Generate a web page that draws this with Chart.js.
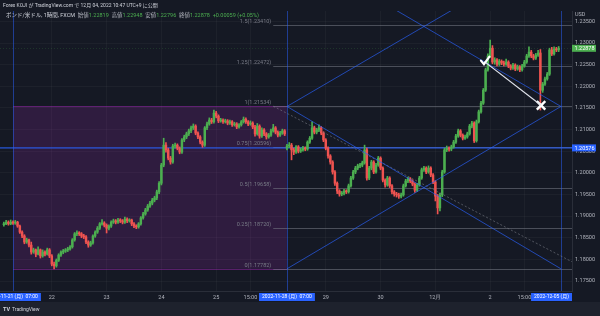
<!DOCTYPE html>
<html>
<head>
<meta charset="utf-8">
<script src="https://cdn.jsdelivr.net/npm/chart.js@4.4.0/dist/chart.umd.min.js"></script>
<style>
  html, body { margin: 0; padding: 0; background: #151924; }
  #c { display: block; }
</style>
</head>
<body>
<canvas id="c" width="600" height="316"></canvas>
<script>
// ------------------ GBP/USD 1h candles (11-19 03:00 .. 12-03 06:00 JST) ------------------
// index 0 = 2022-11-21 (Mon) 07:00, one step = one hour of trading
const firstIndex = -4;

const opens = [
  1.1880,1.1882,1.1886,1.1882,1.1886,1.1884,1.1886,1.1877,1.1863,1.1854,1.1840,1.1845,
  1.1833,1.1817,1.1822,1.1812,1.1822,1.1808,1.1817,1.1812,1.1822,1.1808,1.1789,1.1785,
  1.1798,1.1810,1.1817,1.1819,1.1822,1.1824,1.1829,1.1845,1.1859,1.1861,1.1859,1.1854,
  1.1852,1.1840,1.1833,1.1838,1.1854,1.1863,1.1872,1.1882,1.1884,1.1879,1.1872,1.1877,
  1.1886,1.1889,1.1886,1.1891,1.1889,1.1886,1.1893,1.1889,1.1891,1.1882,1.1877,1.1875,
  1.1882,1.1896,1.1905,1.1914,1.1923,1.1930,1.1937,1.1942,1.1956,1.1976,1.2018,1.2064,
  1.2053,1.2034,1.2025,1.2062,1.2064,1.2057,1.2048,1.2076,1.2083,1.2090,1.2097,1.2104,
  1.2108,1.2092,1.2083,1.2071,1.2064,1.2104,1.2113,1.2122,1.2118,1.2138,1.2131,1.2120,
  1.2122,1.2118,1.2120,1.2115,1.2118,1.2111,1.2113,1.2106,1.2111,1.2118,1.2124,1.2118,
  1.2113,1.2115,1.2106,1.2090,1.2108,1.2085,1.2099,1.2090,1.2083,1.2087,1.2097,1.2104,
  1.2094,1.2087,1.2092,1.2097,1.2057,1.2062,1.2064,1.2053,1.2048,1.2060,1.2050,1.2053,
  1.2057,1.2055,1.2071,1.2080,1.2104,1.2094,1.2099,1.2104,1.2092,1.2076,1.2057,1.2039,
  1.2025,1.2002,1.1976,1.1958,1.1951,1.1953,1.1958,1.1956,1.1970,1.1988,1.2002,1.2011,
  1.2016,1.2018,1.2023,1.2053,1.1988,1.2011,1.2025,1.2002,1.2018,1.2034,1.2011,1.1983,
  1.1972,1.1988,1.1970,1.1956,1.1951,1.1949,1.1946,1.1949,1.1970,1.1981,1.1986,1.1981,
  1.1974,1.1960,1.1972,1.1988,1.2007,1.2011,1.2002,1.2011,1.1995,1.1979,1.1946,1.1919,
  1.1949,1.2002,1.2053,1.2057,1.2055,1.2060,1.2071,1.2085,1.2097,1.2087,1.2080,1.2083,
  1.2090,1.2108,1.2115,1.2074,1.2118,1.2141,1.2161,1.2191,1.2238,1.2270,1.2288,1.2256,
  1.2261,1.2251,1.2258,1.2254,1.2251,1.2256,1.2247,1.2242,1.2249,1.2240,1.2245,1.2238,
  1.2247,1.2256,1.2270,1.2279,1.2270,1.2265,1.2272,1.2277,1.2191,1.2205,1.2217,1.2228,
  1.2284,1.2275,1.2286,1.2284
];
const highs = [
  1.1886,1.1890,1.1889,1.1891,1.1889,1.1890,1.1888,1.1879,1.1866,1.1857,1.1849,1.1847,
  1.1840,1.1826,1.1824,1.1829,1.1824,1.1822,1.1820,1.1826,1.1825,1.1811,1.1794,1.1801,
  1.1813,1.1820,1.1823,1.1825,1.1828,1.1832,1.1848,1.1862,1.1866,1.1864,1.1862,1.1858,
  1.1855,1.1843,1.1842,1.1857,1.1866,1.1876,1.1885,1.1892,1.1887,1.1882,1.1880,1.1889,
  1.1893,1.1892,1.1895,1.1894,1.1892,1.1898,1.1896,1.1894,1.1893,1.1885,1.1880,1.1885,
  1.1899,1.1909,1.1918,1.1927,1.1934,1.1941,1.1946,1.1960,1.1980,1.2022,1.2080,1.2070,
  1.2057,1.2038,1.2066,1.2069,1.2067,1.2060,1.2079,1.2087,1.2094,1.2101,1.2108,1.2113,
  1.2111,1.2095,1.2086,1.2074,1.2107,1.2117,1.2127,1.2126,1.2145,1.2142,1.2134,1.2126,
  1.2125,1.2124,1.2123,1.2122,1.2121,1.2117,1.2116,1.2114,1.2121,1.2129,1.2127,1.2121,
  1.2120,1.2118,1.2110,1.2114,1.2111,1.2104,1.2102,1.2093,1.2091,1.2101,1.2112,1.2107,
  1.2097,1.2096,1.2101,1.2100,1.2066,1.2070,1.2068,1.2057,1.2063,1.2063,1.2057,1.2061,
  1.2060,1.2074,1.2084,1.2118,1.2108,1.2103,1.2111,1.2107,1.2095,1.2079,1.2060,1.2042,
  1.2028,1.2005,1.1979,1.1961,1.1957,1.1962,1.1961,1.1974,1.1992,1.2006,1.2015,1.2020,
  1.2022,1.2027,1.2064,1.2057,1.2015,1.2029,1.2028,1.2022,1.2038,1.2037,1.2014,1.1986,
  1.1992,1.1991,1.1973,1.1959,1.1955,1.1953,1.1953,1.1974,1.1985,1.1990,1.1989,1.1984,
  1.1977,1.1976,1.1992,1.2011,1.2015,1.2014,1.2016,1.2014,1.1998,1.1982,1.1950,1.1953,
  1.2006,1.2057,1.2062,1.2060,1.2064,1.2075,1.2089,1.2101,1.2100,1.2090,1.2087,1.2094,
  1.2112,1.2119,1.2118,1.2122,1.2145,1.2165,1.2195,1.2242,1.2275,1.2307,1.2294,1.2266,
  1.2264,1.2262,1.2261,1.2258,1.2263,1.2259,1.2250,1.2253,1.2252,1.2249,1.2248,1.2251,
  1.2260,1.2274,1.2291,1.2283,1.2274,1.2276,1.2283,1.2285,1.2209,1.2221,1.2232,1.2288,
  1.2290,1.2291,1.2290,1.2292
];
const lows = [
  1.1877,1.1880,1.1879,1.1880,1.1881,1.1881,1.1874,1.1860,1.1850,1.1836,1.1837,1.1829,
  1.1812,1.1814,1.1806,1.1810,1.1803,1.1805,1.1808,1.1810,1.1804,1.1785,1.1778,1.1782,
  1.1795,1.1807,1.1813,1.1816,1.1818,1.1821,1.1826,1.1842,1.1855,1.1855,1.1850,1.1848,
  1.1836,1.1828,1.1830,1.1835,1.1851,1.1860,1.1869,1.1879,1.1875,1.1861,1.1868,1.1874,
  1.1883,1.1882,1.1883,1.1885,1.1882,1.1883,1.1885,1.1886,1.1878,1.1873,1.1871,1.1872,
  1.1879,1.1893,1.1902,1.1911,1.1920,1.1926,1.1933,1.1938,1.1952,1.1972,1.2014,1.2048,
  1.2030,1.2020,1.2022,1.2057,1.2053,1.2044,1.2045,1.2072,1.2079,1.2086,1.2093,1.2100,
  1.2088,1.2079,1.2067,1.2059,1.2061,1.2100,1.2110,1.2114,1.2115,1.2127,1.2116,1.2117,
  1.2114,1.2115,1.2111,1.2112,1.2107,1.2108,1.2102,1.2103,1.2108,1.2115,1.2114,1.2109,
  1.2110,1.2102,1.2085,1.2087,1.2080,1.2082,1.2086,1.2078,1.2080,1.2084,1.2094,1.2090,
  1.2083,1.2084,1.2089,1.2086,1.2053,1.2058,1.2030,1.2042,1.2045,1.2046,1.2047,1.2050,
  1.2051,1.2052,1.2068,1.2077,1.2090,1.2090,1.2095,1.2088,1.2072,1.2053,1.2034,1.2020,
  1.1997,1.1971,1.1952,1.1946,1.1947,1.1949,1.1952,1.1953,1.1967,1.1985,1.1998,1.2007,
  1.2012,1.2014,1.2020,1.1983,1.1984,1.2007,1.1998,1.1999,1.2015,1.2007,1.1979,1.1967,
  1.1969,1.1966,1.1951,1.1946,1.1944,1.1941,1.1942,1.1946,1.1967,1.1977,1.1977,1.1970,
  1.1955,1.1957,1.1969,1.1985,1.2003,1.1998,1.1999,1.1991,1.1975,1.1935,1.1905,1.1912,
  1.1945,1.1999,1.2049,1.2050,1.2051,1.2057,1.2068,1.2082,1.2083,1.2076,1.2077,1.2080,
  1.2087,1.2104,1.2070,1.2071,1.2115,1.2138,1.2158,1.2188,1.2235,1.2266,1.2252,1.2251,
  1.2247,1.2248,1.2250,1.2247,1.2248,1.2243,1.2238,1.2239,1.2236,1.2237,1.2234,1.2235,
  1.2244,1.2253,1.2267,1.2266,1.2261,1.2262,1.2269,1.2145,1.2186,1.2202,1.2214,1.2225,
  1.2271,1.2272,1.2280,1.2280
];
const closes = [
  1.1882,1.1886,1.1882,1.1886,1.1884,1.1886,1.1877,1.1863,1.1854,1.1840,1.1845,1.1833,
  1.1817,1.1822,1.1812,1.1822,1.1808,1.1817,1.1812,1.1822,1.1808,1.1789,1.1785,1.1798,
  1.1810,1.1817,1.1819,1.1822,1.1824,1.1829,1.1845,1.1859,1.1861,1.1859,1.1854,1.1852,
  1.1840,1.1833,1.1838,1.1854,1.1863,1.1872,1.1882,1.1884,1.1879,1.1872,1.1877,1.1886,
  1.1889,1.1886,1.1891,1.1889,1.1886,1.1893,1.1889,1.1891,1.1882,1.1877,1.1875,1.1882,
  1.1896,1.1905,1.1914,1.1923,1.1930,1.1937,1.1942,1.1956,1.1976,1.2018,1.2064,1.2053,
  1.2034,1.2025,1.2062,1.2064,1.2057,1.2048,1.2076,1.2083,1.2090,1.2097,1.2104,1.2108,
  1.2092,1.2083,1.2071,1.2064,1.2104,1.2113,1.2122,1.2118,1.2138,1.2131,1.2120,1.2122,
  1.2118,1.2120,1.2115,1.2118,1.2111,1.2113,1.2106,1.2111,1.2118,1.2124,1.2118,1.2113,
  1.2115,1.2106,1.2090,1.2108,1.2085,1.2099,1.2090,1.2083,1.2087,1.2097,1.2104,1.2094,
  1.2087,1.2092,1.2097,1.2090,1.2062,1.2064,1.2053,1.2048,1.2060,1.2050,1.2053,1.2057,
  1.2055,1.2071,1.2080,1.2104,1.2094,1.2099,1.2104,1.2092,1.2076,1.2057,1.2039,1.2025,
  1.2002,1.1976,1.1958,1.1951,1.1953,1.1958,1.1956,1.1970,1.1988,1.2002,1.2011,1.2016,
  1.2018,1.2023,1.2053,1.1988,1.2011,1.2025,1.2002,1.2018,1.2034,1.2011,1.1983,1.1972,
  1.1988,1.1970,1.1956,1.1951,1.1949,1.1946,1.1949,1.1970,1.1981,1.1986,1.1981,1.1974,
  1.1960,1.1972,1.1988,1.2007,1.2011,1.2002,1.2011,1.1995,1.1979,1.1946,1.1919,1.1949,
  1.2002,1.2053,1.2057,1.2055,1.2060,1.2071,1.2085,1.2097,1.2087,1.2080,1.2083,1.2090,
  1.2108,1.2115,1.2074,1.2118,1.2141,1.2161,1.2191,1.2238,1.2270,1.2288,1.2256,1.2261,
  1.2251,1.2258,1.2254,1.2251,1.2256,1.2247,1.2242,1.2249,1.2240,1.2245,1.2238,1.2247,
  1.2256,1.2270,1.2279,1.2270,1.2265,1.2272,1.2277,1.2191,1.2205,1.2217,1.2228,1.2284,
  1.2275,1.2286,1.2284,1.2288
];

// ------------------ Axes ------------------
const priceTicks = [1.175,1.180,1.185,1.190,1.195,1.200,1.205,1.210,1.215,1.220,1.225,1.230,1.235];
const timeTickIdx = [17, 41, 65, 89, 104, 137, 161, 185, 209, 224];
const timeTickLabels = ['22', '23', '24', '25', '15:00', '29', '30', '12月', '2', '15:00'];
const markerIdx = [0, 120, 240];
const markerLabels = ['2022-11-21 (月)  07:00', '2022-11-28 (月)  07:00', '2022-12-05 (月)'];

// ------------------ Drawings ------------------
const fibRatios = ['0', '0.25', '0.5', '0.75', '1', '1.25', '1.5'];
const fibPrices = [1.17782, 1.18720, 1.19658, 1.20596, 1.21534, 1.22472, 1.23410];
const fibStart = 114;
const boxStart = 0, boxEnd = 120;
const hLinePrice = 1.20576;
const lastPrice = 1.22878;
const lineA = [[120, 1.21534], [240, 1.2523]];
const lineB = [[120, 1.2523], [240, 1.21534]];
const lineC = [[120, 1.17782], [240, 1.21534]];
const lineD = [[120, 1.21534], [240, 1.17782]];
const dashLine = [[114, 1.2154], [245, 1.1794]];
const arrowLine = [[206.5, 1.2257], [231.3, 1.2156]];

const upColor = '#4caf50', downColor = '#ef5350';
const candleX = closes.map((c, i) => i + firstIndex);
const colors = closes.map((c, i) => c >= opens[i] ? upColor : downColor);
const pts = seg => seg.map(p => ({x: p[0], y: p[1]}));

const font5 = '5.5px Roboto, "Noto Sans CJK JP", sans-serif';

function line(ctx, x0, y0, x1, y1) {
  ctx.beginPath(); ctx.moveTo(x0, y0); ctx.lineTo(x1, y1); ctx.stroke();
}

const drawings = {
  id: 'drawings',
  beforeDraw(chart) {
    const ctx = chart.ctx;
    ctx.save();
    ctx.fillStyle = '#151924';
    ctx.fillRect(0, 0, 600, 302);
    ctx.fillStyle = '#1e222d';
    ctx.fillRect(0, 302, 600, 14);
    ctx.restore();
  },
  beforeDatasetsDraw(chart) {
    const {ctx, chartArea: a, scales: {x, y}} = chart;
    ctx.save();
    ctx.beginPath(); ctx.rect(a.left, a.top, a.right - a.left, a.bottom - a.top); ctx.clip();

    // purple range box
    const bx0 = x.getPixelForValue(boxStart), bx1 = x.getPixelForValue(boxEnd);
    const by0 = y.getPixelForValue(fibPrices[4]), by1 = y.getPixelForValue(fibPrices[0]);
    ctx.fillStyle = 'rgba(156,39,176,0.2)';
    ctx.fillRect(bx0, by0, bx1 - bx0, by1 - by0);
    ctx.strokeStyle = 'rgba(156,39,176,0.5)';
    ctx.lineWidth = 1;
    line(ctx, bx0, Math.round(by0) + 0.5, bx1, Math.round(by0) + 0.5);
    line(ctx, bx0, Math.round(by1) + 0.5, bx1, Math.round(by1) + 0.5);

    // fib levels
    const fx = x.getPixelForValue(fibStart);
    ctx.font = font5;
    ctx.textAlign = 'right';
    ctx.textBaseline = 'middle';
    fibPrices.forEach((p, i) => {
      const py = Math.round(y.getPixelForValue(p)) + 0.5;
      ctx.strokeStyle = 'rgba(120,123,134,0.55)';
      line(ctx, fx, py, a.right, py);
      ctx.fillStyle = '#787b86';
      ctx.fillText(fibRatios[i] + '(' + p.toFixed(5) + ')', fx - 2, py - 4);
    });

    // current price line
    const ly = Math.round(y.getPixelForValue(lastPrice)) + 0.5;
    ctx.setLineDash([1, 2]);
    ctx.strokeStyle = 'rgba(76,175,80,0.18)';
    line(ctx, a.left, ly, a.right, ly);
    ctx.setLineDash([]);

    // vertical date lines
    ctx.strokeStyle = 'rgba(41,98,255,0.5)';
    markerIdx.forEach(t => {
      const px = Math.round(x.getPixelForValue(t)) + 0.5;
      line(ctx, px, a.top, px, a.bottom);
    });

    // horizontal level
    const hy = y.getPixelForValue(hLinePrice);
    ctx.strokeStyle = 'rgba(41,98,255,0.6)';
    ctx.lineWidth = 1.6;
    line(ctx, a.left, hy, a.right, hy);
    ctx.restore();
  },
  afterDatasetsDraw(chart) {
    const {ctx, scales: {x, y}} = chart;
    // check mark at start of the white arrow line
    const cx = x.getPixelForValue(arrowLine[0][0]), cy = y.getPixelForValue(arrowLine[0][1]);
    ctx.save();
    ctx.strokeStyle = '#ffffff';
    ctx.lineWidth = 2.2;
    ctx.lineCap = 'round';
    ctx.beginPath();
    ctx.moveTo(cx - 3.5, cy - 1);
    ctx.lineTo(cx - 0.5, cy + 2.5);
    ctx.lineTo(cx + 5, cy - 5);
    ctx.stroke();
    ctx.restore();
  },
  afterDraw(chart) {
    const {ctx, chartArea: a, scales: {x, y}} = chart;
    ctx.save();
    ctx.textBaseline = 'middle';

    // time axis markers
    ctx.save();
    ctx.font = '5px Roboto, "Noto Sans CJK JP", sans-serif';
    ctx.beginPath(); ctx.rect(0, a.bottom, a.right, 12); ctx.clip();
    markerIdx.forEach((t, i) => {
      const w = ctx.measureText(markerLabels[i]).width + 6;
      let left = x.getPixelForValue(t) - w / 2;
      if (left + w > a.right) left = a.right - w;
      ctx.fillStyle = '#2962ff';
      ctx.fillRect(left, a.bottom + 2, w, 8);
      ctx.fillStyle = '#ffffff';
      ctx.textAlign = 'left';
      ctx.fillText(markerLabels[i], left + 3, a.bottom + 6.2);
    });
    ctx.restore();

    // price axis tags
    ctx.font = font5;
    [[lastPrice, upColor], [hLinePrice, '#2962ff']].forEach(([p, bg]) => {
      const py = y.getPixelForValue(p);
      ctx.fillStyle = bg;
      ctx.fillRect(a.right, py - 3.5, 24, 7);
      ctx.fillStyle = '#ffffff';
      ctx.textAlign = 'left';
      ctx.fillText(p.toFixed(5), a.right + 2.5, py + 0.3);
    });

    ctx.textAlign = 'left';
    ctx.fillStyle = '#b2b5be';
    ctx.fillText('USD', a.right + 3, 15);

    // header
    ctx.font = '5px Roboto, "Noto Sans CJK JP", sans-serif';
    ctx.fillStyle = '#d1d4dc';
    ctx.fillText('Forex KOJI が TradingView.com で 12月 04, 2022 10:47 UTC+9 に公開', 3, 5.5);

    // legend
    const parts = [
      ['ポンド/米ドル, 1時間, FXCM  ', '#d1d4dc'],
      ['始値', '#b2b5be'], ['1.22819  ', upColor],
      ['高値', '#b2b5be'], ['1.22948  ', upColor],
      ['安値', '#b2b5be'], ['1.22796  ', upColor],
      ['終値', '#b2b5be'], ['1.22878  ', upColor],
      ['+0.00059 (+0.05%)', upColor]
    ];
    ctx.font = '5.5px Roboto, "Noto Sans CJK JP", sans-serif';
    let lx = 6;
    parts.forEach(([txt, col]) => {
      ctx.fillStyle = col;
      ctx.fillText(txt, lx, 16);
      lx += ctx.measureText(txt).width;
    });

    // footer
    ctx.font = 'bold 5.5px Roboto, sans-serif';
    ctx.fillStyle = '#d1d4dc';
    ctx.fillText('TV', 3, 309.5);
    ctx.font = '5px Roboto, sans-serif';
    ctx.fillText('TradingView', 12, 309.5);
    ctx.restore();
  }
};

const drawLineStyle = {type: 'line', pointRadius: 0, borderWidth: 1, borderColor: 'rgba(41,98,255,0.65)', fill: false};

new Chart(document.getElementById('c'), {
  type: 'bar',
  data: {
    datasets: [
      {type: 'line', data: pts(arrowLine), borderColor: '#e0e3eb', borderWidth: 1.2, pointRadius: 0, fill: false},
      {type: 'line', data: pts([arrowLine[1]]), pointStyle: 'crossRot', pointRadius: 6, borderWidth: 2.4,
       pointBorderColor: '#ffffff', borderColor: '#ffffff', showLine: false},
      Object.assign({data: pts(lineA)}, drawLineStyle),
      Object.assign({data: pts(lineB)}, drawLineStyle),
      Object.assign({data: pts(lineC)}, drawLineStyle),
      Object.assign({data: pts(lineD)}, drawLineStyle),
      {type: 'line', data: pts(dashLine), pointRadius: 0, borderWidth: 1, borderDash: [2, 2],
       borderColor: 'rgba(120,123,134,0.6)', fill: false},
      {
        label: 'body',
        data: candleX.map((t, i) => ({x: t, y: [Math.min(opens[i], closes[i]), Math.max(opens[i], closes[i])]})),
        backgroundColor: colors,
        barThickness: 1.8,
        minBarLength: 1,
        grouped: false
      },
      {
        label: 'wick',
        data: candleX.map((t, i) => ({x: t, y: [lows[i], highs[i]]})),
        backgroundColor: colors,
        barThickness: 1,
        grouped: false
      }
    ]
  },
  options: {
    responsive: false,
    animation: false,
    devicePixelRatio: 1,
    layout: {autoPadding: false, padding: {top: 11, bottom: 14, left: 0, right: 0}},
    plugins: {legend: {display: false}, tooltip: {enabled: false}},
    scales: {
      x: {
        type: 'linear',
        min: -5.69,
        max: 244.85,
        offset: false,
        afterFit(s) { s.height = 11; s.paddingLeft = 0; s.paddingRight = 0; },
        afterBuildTicks(s) { s.ticks = timeTickIdx.map(v => ({value: v})); },
        ticks: {
          autoSkip: false, maxRotation: 0, padding: 3,
          color: '#b2b5be', font: {size: 5.5, family: 'Roboto'},
          callback: (v, i) => timeTickLabels[i]
        },
        grid: {offset: false, drawTicks: false, color: 'rgba(255,255,255,0.035)'},
        border: {color: '#2a2e39'}
      },
      y: {
        position: 'right',
        min: 1.17269,
        max: 1.23740,
        afterFit(s) { s.width = 28; s.paddingTop = 0; s.paddingBottom = 0; },
        afterBuildTicks(s) { s.ticks = priceTicks.map(v => ({value: v})); },
        ticks: {
          padding: 3, color: '#b2b5be', font: {size: 5.5, family: 'Roboto'},
          callback: v => v.toFixed(5)
        },
        grid: {drawTicks: false, color: 'rgba(255,255,255,0.035)'},
        border: {color: '#2a2e39'}
      }
    }
  },
  plugins: [drawings]
});
</script>
</body>
</html>
